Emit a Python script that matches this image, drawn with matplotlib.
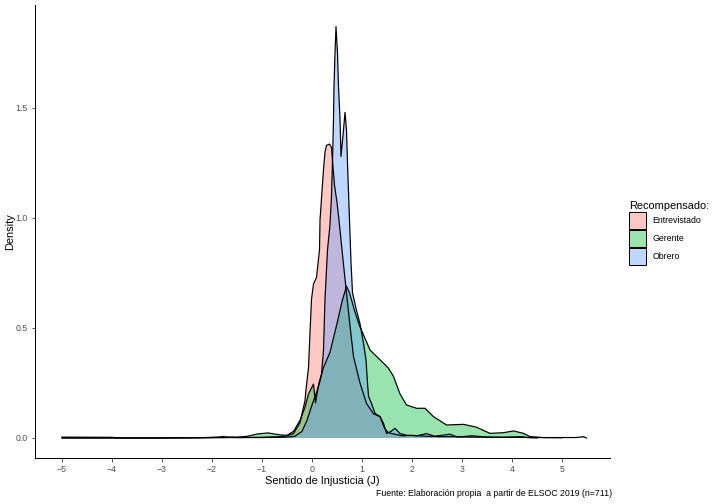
import matplotlib
matplotlib.use("Agg")
from matplotlib import pyplot as plt
from matplotlib.colors import to_rgba
from matplotlib.patches import Patch

plt.rcParams['font.family'] = ['Liberation Sans', 'DejaVu Sans']

# density estimates, one per group
x_entrevistado = [-5, -4, -3.9, -3, -2, -1.5, -1.0, -0.64, -0.5, -0.37, -0.24, -0.14, -0.12, -0.07,
                  -0.04, -0.01, 0.03, 0.09, 0.15, 0.16, 0.23, 0.26, 0.29, 0.35, 0.39, 0.41,
                  0.45, 0.5, 0.54, 0.6, 0.68, 0.76, 0.83, 0.96, 1.09, 1.23, 1.36, 1.45, 1.52,
                  1.6, 1.7, 1.8, 2.0, 2.3, 2.6, 3.0, 3.2, 3.5, 4.0, 4.5, 5.0]
d_entrevistado = [0.004, 0.003, 0.001, 0.001, 0.001, 0.002, 0.003, 0.006, 0.01, 0.02, 0.07, 0.17,
                  0.22, 0.32, 0.48, 0.63, 0.70, 0.73, 0.855, 0.99, 1.22, 1.30, 1.33, 1.336, 1.32,
                  1.26, 1.15, 1.07, 0.99, 0.855, 0.68, 0.51, 0.37, 0.25, 0.157, 0.11, 0.097,
                  0.045, 0.025, 0.02, 0.015, 0.01, 0.012, 0.008, 0.006, 0.006, 0.01, 0.004,
                  0.003, 0.002, 0.001]

x_gerente = [-5, -4, -3, -2.3, -2.0, -1.5, -1.28, -1.1, -0.88, -0.64, -0.5, -0.37, -0.24, -0.14,
             -0.07, 0.03, 0.07, 0.1, 0.14, 0.23, 0.36, 0.5, 0.6, 0.69, 0.75, 0.85, 0.95, 0.99,
             1.16, 1.43, 1.53, 1.63, 1.76, 1.89, 2.09, 2.26, 2.43, 2.69, 3.03, 3.29, 3.56, 3.83,
             4.03, 4.23, 4.36, 4.63, 5.29, 5.43, 5.49]
d_gerente = [0.0, 0.0, 0.0, 0.001, 0.003, 0.004, 0.008, 0.018, 0.023, 0.014, 0.012, 0.03, 0.08,
             0.14, 0.2, 0.245, 0.16, 0.2, 0.25, 0.32, 0.39, 0.52, 0.62, 0.69, 0.66, 0.58, 0.51,
             0.49, 0.40, 0.34, 0.317, 0.28, 0.20, 0.15, 0.135, 0.135, 0.097, 0.059, 0.062, 0.049,
             0.021, 0.024, 0.032, 0.021, 0.006, 0.002, 0.002, 0.006, 0.0]

x_obrero = [-5, -4, -3, -2.3, -2.0, -1.85, -1.78, -1.7, -1.5, -1.0, -0.7, -0.5, -0.34, -0.2, -0.1,
            0.0, 0.08, 0.15, 0.19, 0.23, 0.26, 0.31, 0.36, 0.39, 0.41, 0.43, 0.44, 0.46, 0.48,
            0.51, 0.53, 0.56, 0.58, 0.63, 0.66, 0.69, 0.71, 0.75, 0.78, 0.81, 0.89, 0.96, 1.03,
            1.08, 1.11, 1.13, 1.19, 1.26, 1.36, 1.43, 1.49, 1.58, 1.66, 1.76, 1.9, 2.1, 2.29,
            2.45, 2.76, 2.9, 3.3, 3.8, 4.2, 4.3, 4.5]
d_obrero = [0.0, 0.0, 0.0, 0.001, 0.002, 0.004, 0.007, 0.004, 0.002, 0.002, 0.003, 0.004, 0.008,
            0.03, 0.08, 0.15, 0.2, 0.25, 0.29, 0.40, 0.63, 0.855, 0.97, 1.1, 1.26, 1.45, 1.6,
            1.75, 1.87, 1.75, 1.6, 1.45, 1.28, 1.4, 1.48, 1.4, 1.25, 0.99, 0.8, 0.66, 0.58,
            0.52, 0.43, 0.355, 0.25, 0.19, 0.157, 0.112, 0.097, 0.067, 0.021, 0.03, 0.044,
            0.02, 0.012, 0.01, 0.02, 0.008, 0.017, 0.005, 0.004, 0.003, 0.006, 0.002, 0.0]

groups = ['Entrevistado', 'Gerente', 'Obrero']
colors = ['#F8766D', '#00BA38', '#619CFF']
curves = [(x_entrevistado, d_entrevistado), (x_gerente, d_gerente), (x_obrero, d_obrero)]

fig = plt.figure(figsize=(10, 7), dpi=72)
ax = fig.add_axes([35 / 720, 46 / 504, 575 / 720, 453 / 504])

for (xs, ds), col in zip(curves, colors):
    ax.fill_between(xs, 0, ds, facecolor=col, alpha=0.4, linewidth=0)
    ax.plot(xs, ds, color='black', lw=1.2)

ax.set_xlim(-5.54, 5.96)
ax.set_ylim(-0.091, 1.968)
ax.set_xticks(range(-5, 6))
ax.set_yticks([0.0, 0.5, 1.0, 1.5])
ax.set_yticklabels(['0.0', '0.5', '1.0', '1.5'])
for s in ['top', 'right']:
    ax.spines[s].set_visible(False)
for s in ['left', 'bottom']:
    ax.spines[s].set_linewidth(1.0)
ax.tick_params(colors='#4D4D4D', labelsize=8.8, length=3.5, width=0.8)
ax.tick_params(axis='both', color='#333333')
ax.set_xlabel('Sentido de Injusticia (J)', fontsize=11, labelpad=2)
ax.set_ylabel('Density', fontsize=11, labelpad=1)

handles = [Patch(facecolor=to_rgba(c, 0.4), edgecolor='black', linewidth=1.0) for c in colors]
leg = fig.legend(handles, groups, loc='upper left', bbox_to_anchor=(622 / 720, 1 - 194 / 504),
                 frameon=False, fontsize=8.8, title='Recompensado:', title_fontsize=11,
                 handlelength=1.95, handleheight=2.6, labelspacing=0.12, handletextpad=0.7,
                 borderpad=0.3, alignment='left')

fig.text(612 / 720, 1 - 494 / 504, 'Fuente: Elaboración propia  a partir de ELSOC 2019 (n=711)',
         ha='right', va='center', fontsize=8.8)

fig.savefig('out.png', dpi=72)
